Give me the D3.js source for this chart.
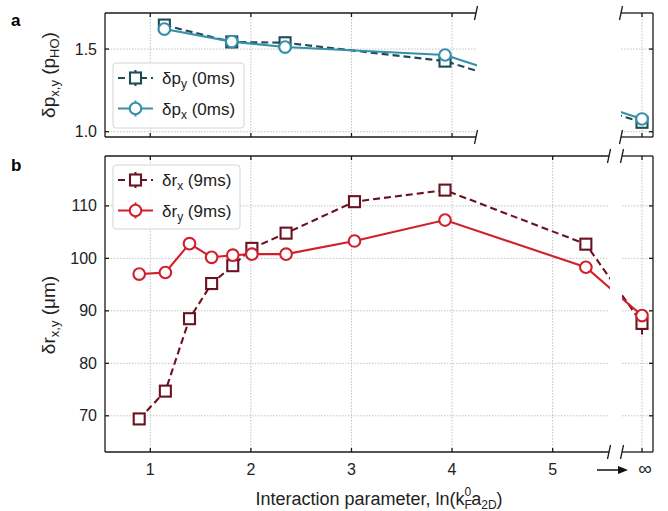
<!DOCTYPE html>
<html lang="en">
<head>
<meta charset="utf-8">
<script src="https://d3js.org/d3.v7.min.js"></script>
<style>
  * { margin:0; padding:0 }
  body { background:#fff; }
  svg { font-family: "Liberation Sans", Arial, sans-serif; }
</style>
</head>
<body>
<script>
// panel b: cloud size after 9ms TOF
const xB = [0.89, 1.15, 1.39, 1.61, 1.82, 2.01, 2.35, 3.03, 3.93, 5.33, Infinity];
const rX = [69.4, 74.7, 88.5, 95.2, 98.6, 101.9, 104.8, 110.8, 113.0, 102.7, 87.6];
const rXErr = [0.9, 0.8, 0.8, 1.2, 1.0, 0.8, 0.6, 0.6, 0.9, 0.6, 2.1];
const rY = [97.0, 97.3, 102.8, 100.2, 100.6, 100.8, 100.8, 103.3, 107.3, 98.3, 89.1];
const rYErr = [0.8, 0.5, 0.5, 0.5, 0.6, 0.5, 0.5, 0.5, 0.5, 0.5, 1.0];
// panel a: momentum width at 0ms
const xA = [1.14, 1.81, 2.34, 3.93, Infinity];
const pY = [1.645, 1.543, 1.538, 1.427, 1.057];
const pX = [1.621, 1.545, 1.512, 1.464, 1.077];
const xTicks = [1, 2, 3, 4, 5];
const yTicksA = [1.0, 1.5];
const yTicksB = [70, 80, 90, 100, 110];

const W = 668, H = 511;
const L = 105, R = 653;
const xInf = 642;
const cDarkRed = '#6b1220', cRed = '#d21f2b', cDarkTeal = '#1d4c57', cTeal = '#3690a8';

const x = d3.scaleLinear().domain([0.55, 5.56]).range([L, 609]);
const xPos = v => isFinite(v) ? x(v) : xInf;
const yA = d3.scaleLinear().domain([0.968, 1.718]).range([137, 13]);
const yB = d3.scaleLinear().domain([63.1, 119.5]).range([452, 156]);

const svg = d3.select('body').append('svg').attr('width', W).attr('height', H);
const defs = svg.append('defs');

function clip(id, x0, x1, y0, y1) {
  defs.append('clipPath').attr('id', id).append('rect')
    .attr('x', x0).attr('y', y0).attr('width', x1 - x0).attr('height', y1 - y0);
  return 'url(#' + id + ')';
}

// draw one panel with a broken x axis
function panel(o) {
  const g = svg.append('g');
  const y = o.y, top = y.range()[1], bot = y.range()[0];
  const segs = [[L, o.breakL], [o.breakR, R]];

  // grid
  segs.forEach(s => {
    o.yTicks.forEach(t => g.append('line')
      .attr('x1', s[0]).attr('x2', s[1]).attr('y1', y(t)).attr('y2', y(t))
      .attr('stroke', '#b3b3b3').attr('stroke-width', 0.8).attr('stroke-dasharray', '1.5,1.5'));
  });
  o.xTicks.filter(t => x(t) < o.breakL).concat([Infinity]).forEach(t => g.append('line')
    .attr('x1', xPos(t)).attr('x2', xPos(t)).attr('y1', top).attr('y2', bot)
    .attr('stroke', '#b3b3b3').attr('stroke-width', 0.8).attr('stroke-dasharray', '1.5,1.5'));

  // series
  const c1 = clip(o.id + 'c1', L, o.breakL + 1, top - 2, bot + 2);
  const c2 = clip(o.id + 'c2', o.breakR, R, top - 2, bot + 2);
  const line = d3.line().x(d => xPos(d[0])).y(d => y(d[1]));
  o.series.forEach(s => {
    const pts = o.xs.map((v, i) => [v, s.vals[i], s.err ? s.err[i] : 0]);
    [c1, c2].forEach(c => g.append('path').attr('clip-path', c)
      .attr('d', line(pts)).attr('fill', 'none').attr('stroke', s.color)
      .attr('stroke-width', 2.1).attr('stroke-dasharray', s.dash ? '7,4' : null));
    const m = g.append('g');
    pts.forEach(p => {
      const cx = xPos(p[0]), cy = y(p[1]);
      if (p[2]) m.append('line').attr('x1', cx).attr('x2', cx)
        .attr('y1', y(p[1] - p[2])).attr('y2', y(p[1] + p[2]))
        .attr('stroke', s.color).attr('stroke-width', 2);
      marker(m, s.shape, cx, cy, s.color);
    });
  });

  // spines
  const ax = g.append('g').attr('stroke', '#1a1a1a').attr('stroke-width', 1.3).attr('fill', 'none');
  segs.forEach(s => {
    ax.append('line').attr('x1', s[0]).attr('x2', s[1]).attr('y1', top).attr('y2', top);
    ax.append('line').attr('x1', s[0]).attr('x2', s[1]).attr('y1', bot).attr('y2', bot);
  });
  ax.append('line').attr('x1', L).attr('x2', L).attr('y1', top).attr('y2', bot);
  ax.append('line').attr('x1', R).attr('x2', R).attr('y1', top).attr('y2', bot);
  // break marks
  [o.breakL, o.breakR].forEach(bx => [top, bot].forEach(by => ax.append('line')
    .attr('x1', bx + 1.5).attr('y1', by - 7).attr('x2', bx - 1.5).attr('y2', by + 7)));
  // ticks, inward
  o.xTicks.filter(t => x(t) < o.breakL).concat([Infinity]).forEach(t => {
    ax.append('line').attr('x1', xPos(t)).attr('x2', xPos(t)).attr('y1', bot).attr('y2', bot - 4);
    ax.append('line').attr('x1', xPos(t)).attr('x2', xPos(t)).attr('y1', top).attr('y2', top + 4);
  });
  o.yTicks.forEach(t => {
    ax.append('line').attr('x1', L).attr('x2', L + 4).attr('y1', y(t)).attr('y2', y(t));
    ax.append('line').attr('x1', R).attr('x2', R - 4).attr('y1', y(t)).attr('y2', y(t));
  });
  // y tick labels
  g.selectAll('.yl').data(o.yTicks).join('text')
    .attr('x', 97).attr('y', d => y(d) + 5.5).attr('text-anchor', 'end')
    .attr('font-size', 16).attr('fill', '#222').text(o.fmt);

  // legend
  const lg = g.append('g');
  lg.append('rect').attr('x', o.leg[0]).attr('y', o.leg[1]).attr('width', o.leg[2]).attr('height', o.leg[3])
    .attr('rx', 3).attr('fill', '#fff').attr('fill-opacity', 0.85).attr('stroke', '#d5d5d5');
  o.series.forEach((s, i) => {
    const ly = o.leg[1] + 15 + i * 30.5;
    const lx = o.leg[0] + 5;
    lg.append('line').attr('x1', lx).attr('x2', lx + 35).attr('y1', ly).attr('y2', ly)
      .attr('stroke', s.color).attr('stroke-width', 2).attr('stroke-dasharray', s.dash ? '7,4' : null);
    lg.append('line').attr('x1', lx + 17.5).attr('x2', lx + 17.5).attr('y1', ly - 8).attr('y2', ly + 8)
      .attr('stroke', s.color).attr('stroke-width', 2);
    marker(lg, s.shape, lx + 17.5, ly, s.color);
    const t = lg.append('text').attr('x', lx + 44).attr('y', ly + 6).attr('font-size', 17).attr('fill', '#222');
    t.append('tspan').text(s.name[0]);
    t.append('tspan').attr('font-size', 12).attr('dy', 4).text(s.name[1]);
    t.append('tspan').attr('dy', -4).text(' (' + s.name[2] + ')');
  });

  // panel letter
  svg.append('text').attr('x', 11).attr('y', o.letterY).attr('font-size', 17)
    .attr('font-weight', 'bold').text(o.id);
  return g;
}

function marker(g, shape, cx, cy, color) {
  if (shape === 'square') g.append('rect').attr('x', cx - 5.5).attr('y', cy - 5.5)
    .attr('width', 11).attr('height', 11).attr('fill', '#fff').attr('stroke', color).attr('stroke-width', 2.1);
  else g.append('circle').attr('cx', cx).attr('cy', cy).attr('r', 5.8)
    .attr('fill', '#fff').attr('stroke', color).attr('stroke-width', 2.1);
}

panel({
  id: 'a', y: yA, xs: xA, breakL: 476, breakR: 621, xTicks: xTicks, yTicks: yTicksA,
  fmt: d3.format('.1f'), leg: [113, 63, 131, 65], letterY: 26,
  series: [
    { name: ['δp', 'y', '0ms'], vals: pY, color: cDarkTeal, dash: true, shape: 'square' },
    { name: ['δp', 'x', '0ms'], vals: pX, color: cTeal, dash: false, shape: 'circle' }
  ]
});
panel({
  id: 'b', y: yB, xs: xB, breakL: 609, breakR: 622, xTicks: xTicks, yTicks: yTicksB,
  fmt: d3.format('d'), leg: [113, 165, 127, 64], letterY: 171,
  series: [
    { name: ['δr', 'x', '9ms'], vals: rX, err: rXErr, color: cDarkRed, dash: true, shape: 'square' },
    { name: ['δr', 'y', '9ms'], vals: rY, err: rYErr, color: cRed, dash: false, shape: 'circle' }
  ]
});

// x tick labels
svg.selectAll('.xl').data(xTicks).join('text')
  .attr('x', d => x(d)).attr('y', 475).attr('text-anchor', 'middle')
  .attr('font-size', 16).attr('fill', '#222').text(d => d);
svg.append('text').attr('x', xInf + 3).attr('y', 475).attr('text-anchor', 'middle')
  .attr('font-size', 19).attr('fill', '#222').text('∞');
svg.append('line').attr('x1', 597).attr('x2', 620).attr('y1', 470).attr('y2', 470)
  .attr('stroke', '#111').attr('stroke-width', 1.5);
svg.append('path').attr('d', 'M628,470 L618,466 L618,474 Z').attr('fill', '#111');

// x label
const xl = svg.append('text').attr('x', 379).attr('y', 505).attr('text-anchor', 'middle')
  .attr('font-size', 18).attr('fill', '#222');
xl.append('tspan').text('Interaction parameter, ln(k');
xl.append('tspan').attr('font-size', 12).attr('dy', 4).text('F');
xl.append('tspan').attr('font-size', 12).attr('dx', -7.3).attr('dy', -13).text('0');
xl.append('tspan').attr('dy', 9).text('a');
xl.append('tspan').attr('font-size', 12).attr('dy', 4).text('2D');
xl.append('tspan').attr('dy', -4).text(')');

// y labels
function ylab(cy, main, sub, unit, unitSub) {
  const t = svg.append('text').attr('transform', `translate(55,${cy}) rotate(-90)`)
    .attr('text-anchor', 'middle').attr('font-size', 19).attr('fill', '#222');
  t.append('tspan').text(main);
  t.append('tspan').attr('font-size', 13).attr('dy', 4).text(sub);
  t.append('tspan').attr('dy', -4).text(unit);
  if (unitSub) {
    t.append('tspan').attr('font-size', 13).attr('dy', 4).text(unitSub);
    t.append('tspan').attr('dy', -4).text(')');
  }
}
ylab(75, 'δp', 'x,y', ' (p', 'HO');
ylab(315, 'δr', 'x,y', ' (μm)');
</script>
</body>
</html>
